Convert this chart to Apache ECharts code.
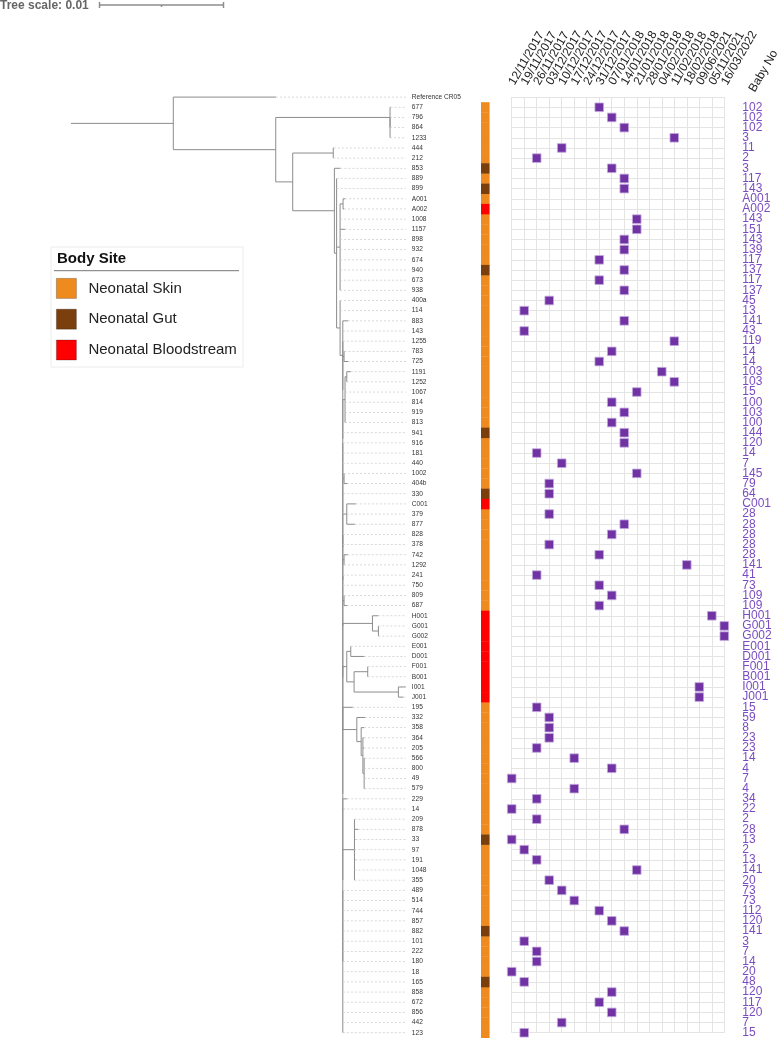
<!DOCTYPE html>
<html>
<head>
<meta charset="utf-8">
<script src="https://cdn.jsdelivr.net/npm/echarts@6/dist/echarts.min.js"></script>
<style>
  html, body { margin: 0; padding: 0; background: #fff; }
  #main { width: 778px; height: 1038px; }
</style>
</head>
<body>
<div id="main"></div>
<script>
var myChart = echarts.init(document.getElementById('main'));

// leaves, top to bottom
var leafNames = ['Reference CR05', '677', '796', '864', '1233', '444', '212', '853', '889', '899',
    'A001', 'A002', '1008', '1157', '898', '932', '674', '940', '673', '938',
    '400a', '114', '883', '143', '1255', '783', '725', '1191', '1252', '1067',
    '814', '919', '813', '941', '916', '181', '440', '1002', '404b', '330',
    'C001', '379', '877', '828', '378', '742', '1292', '241', '750', '809',
    '687', 'H001', 'G001', 'G002', 'E001', 'D001', 'F001', 'B001', 'I001', 'J001',
    '195', '332', '358', '364', '205', '566', '800', '49', '579', '229',
    '14', '209', '878', '33', '97', '191', '1048', '355', '489', '514',
    '744', '857', '882', '101', '222', '180', '18', '165', '858', '672',
    '856', '442', '123'];

var bodySite = ['', 'Skin', 'Skin', 'Skin', 'Skin', 'Skin', 'Skin', 'Gut', 'Skin', 'Gut',
    'Skin', 'Blood', 'Skin', 'Skin', 'Skin', 'Skin', 'Skin', 'Gut', 'Skin', 'Skin',
    'Skin', 'Skin', 'Skin', 'Skin', 'Skin', 'Skin', 'Skin', 'Skin', 'Skin', 'Skin',
    'Skin', 'Skin', 'Skin', 'Gut', 'Skin', 'Skin', 'Skin', 'Skin', 'Skin', 'Gut',
    'Blood', 'Skin', 'Skin', 'Skin', 'Skin', 'Skin', 'Skin', 'Skin', 'Skin', 'Skin',
    'Skin', 'Blood', 'Blood', 'Blood', 'Blood', 'Blood', 'Blood', 'Blood', 'Blood', 'Blood',
    'Skin', 'Skin', 'Skin', 'Skin', 'Skin', 'Skin', 'Skin', 'Skin', 'Skin', 'Skin',
    'Skin', 'Skin', 'Skin', 'Gut', 'Skin', 'Skin', 'Skin', 'Skin', 'Skin', 'Skin',
    'Skin', 'Skin', 'Gut', 'Skin', 'Skin', 'Skin', 'Skin', 'Gut', 'Skin', 'Skin',
    'Skin', 'Skin', 'Skin'];

var sampleDates = ['12/11/2017', '19/11/2017', '26/11/2017', '03/12/2017', '10/12/2017', '17/12/2017',
    '24/12/2017', '31/12/2017', '07/01/2018', '14/01/2018', '21/01/2018', '28/01/2018',
    '04/02/2018', '11/02/2018', '18/02/2018', '09/06/2021', '05/11/2021', '16/03/2022'];

// index into sampleDates for each leaf (null = no sample date)
var sampleCol = [null, 7, 8, 9, 13, 4, 2, 8, 9, 9,
    null, null, 10, 10, 9, 9, 7, 9, 7, 9,
    3, 1, 9, 1, 13, 8, 7, 12, 13, 10,
    8, 9, 8, 9, 9, 2, 4, 10, 3, 3,
    null, 3, 9, 8, 3, 7, 14, 2, 7, 8,
    7, 16, 17, 17, null, null, null, null, 15, 15,
    2, 3, 3, 3, 2, 5, 8, 0, 5, 2,
    0, 2, 9, 0, 1, 2, 10, 3, 4, 5,
    7, 8, 9, 1, 2, 2, 0, 1, 8, 7,
    8, 4, 1];

var babyNo = ['', '102', '102', '102', '3', '11', '2', '3', '117', '143',
    'A001', 'A002', '143', '151', '143', '139', '117', '137', '117', '137',
    '45', '13', '141', '43', '119', '14', '14', '103', '103', '15',
    '100', '103', '100', '144', '120', '14', '7', '145', '79', '64',
    'C001', '28', '28', '28', '28', '28', '141', '41', '73', '109',
    '109', 'H001', 'G001', 'G002', 'E001', 'D001', 'F001', 'B001', 'I001', 'J001',
    '15', '59', '8', '23', '23', '14', '4', '7', '4', '34',
    '22', '2', '28', '13', '2', '13', '141', '20', '73', '73',
    '112', '120', '141', '3', '7', '14', '20', '48', '120', '117',
    '120', '7', '15'];

// tree with branch lengths (substitutions per site)
var treeNewick =
    '((Reference_CR05:0.00828,' +
     '((677:0.00004,(796:0,864:0,1233:0):0):0.00922,' +
      '((444:0.00004,212:0):0.00327,' +
       '(853:0.00048,' +
        '(889:0,899:0,' +
         '((A001:0.00016,A002:0.00008):0.00024,1008:0,1157:0.0004,898:0,932:0,674:0,940:0,673:0,938:0):0.00028,' +
         '(400a:0,114:0,' +
          '(883:0.00043,143:0,' +
           '(1255:0,(783:0.00004,725:0.00032):0.0001,' +
            '(((1191:0.00032,1252:0):0.00014,1067:0,814:0,919:0,813:0):0.00018,941:0,' +
             '(916:0,181:0,440:0,' +
              '((1002:0,404b:0.00024):0.0001,330:0.00005,' +
               '((C001:0.00073,379:0,877:0.00065):0.00032,' +
                '(828:0,378:0,(742:0.0003,1292:0):0.0001,' +
                 '(241:0,750:0,(809:0,687:0.00024):0.0001,' +
                  '((H001:0.00048,(G001:0,G002:0):0.00048):0.00239,' +
                   '(((E001:0,D001:0.0011):0.00032,((F001:0,B001:0):0.0011,(I001:0.0006,J001:0.0004):0.00357):0.00059):0.00032,' +
                    '(195:0.00081,' +
                     '(332:0.00067,(358:0.00024,(364:0.00008,205:0.00008,(566:0.00004,800:0,49:0,579:0.00004):0.0001):0.00014):0.00035):0.00113,' +
                     '(229:0.00035,14:0.00005,' +
                      '(209:0,878:0.00032,33:0.00008,97:0,191:0.00008,1048:0,355:0):0.00094,' +
                      '(489:0,514:0,744:0,857:0,882:0,101:0,222:0,180:0,18:0,165:0,858:0,672:0,856:0,442:0,123:0):0' +
                     '):0' +
                    '):0' +
                   '):0' +
                  '):0' +
                 '):0' +
                '):0' +
               '):0' +
              '):0' +
             '):0' +
            '):0' +
           '):0' +
          '):0.00022' +
         '):0.00028' +
        '):0.00018' +
       '):0.00336' +
      '):0.00137' +
     '):0.00826' +
    '):0.00825;';

var siteNames = { Skin: 'Neonatal Skin', Gut: 'Neonatal Gut', Blood: 'Neonatal Bloodstream' };
var siteColors = { Skin: '#EF8A1F', Gut: '#7A3F0C', Blood: '#FF0000' };

var pxPerUnit = 12400;   // 0.01 = 124 px
var treeMax = 0.027;
var nRows = leafNames.length;

function parseNewick(s) {
    s = s.replace(/\s+/g, '');
    var i = 0;
    function node() {
        var n = { children: [], name: '', len: 0 };
        if (s[i] === '(') {
            i++;
            n.children.push(node());
            while (s[i] === ',') { i++; n.children.push(node()); }
            i++;
        }
        var name = '';
        while (i < s.length && ',():;'.indexOf(s[i]) < 0) name += s[i++];
        n.name = name.replace(/_/g, ' ');
        if (s[i] === ':') {
            i++;
            var num = '';
            while (i < s.length && ',();'.indexOf(s[i]) < 0) num += s[i++];
            n.len = parseFloat(num);
        }
        return n;
    }
    return node();
}

var branches = [];
var leaders = [];

function layout(n, px) {
    n.x = px + n.len;
    if (!n.children.length) {
        n.y = leafNames.indexOf(n.name);
        if (n.x < treeMax) leaders.push([n.x, n.y, treeMax, n.y]);
        return;
    }
    n.children.forEach(function (c) { layout(c, n.x); });
    var first = n.children[0], last = n.children[n.children.length - 1];
    n.y = (first.y + last.y) / 2;
    branches.push([n.x, first.y, n.x, last.y]);
    n.children.forEach(function (c) { branches.push([n.x, c.y, c.x, c.y]); });
}

var tree = parseNewick(treeNewick);
layout(tree, 0);
branches.push([0, tree.y, tree.x, tree.y]);

function segmentRenderer(style) {
    return function (params, api) {
        var p1 = api.coord([api.value(0), api.value(1)]);
        var p2 = api.coord([api.value(2), api.value(3)]);
        return {
            type: 'line',
            shape: { x1: p1[0], y1: p1[1], x2: p2[0], y2: p2[1] },
            style: style
        };
    };
}

function siteSeries(key) {
    var rows = [];
    bodySite.forEach(function (s, i) { if (s === key) rows.push([0, i]); });
    return {
        name: siteNames[key],
        type: 'custom',
        xAxisIndex: 1,
        yAxisIndex: 2,
        itemStyle: { color: siteColors[key] },
        renderItem: function (params, api) {
            var a = api.coord([0, api.value(1) - 0.5]);
            var b = api.coord([1, api.value(1) + 0.5]);
            return {
                type: 'rect',
                shape: { x: a[0], y: a[1], width: b[0] - a[0], height: b[1] - a[1] + 0.3 },
                style: { fill: api.visual('color') }
            };
        },
        data: rows
    };
}

var samples = [];
sampleCol.forEach(function (c, i) { if (c !== null) samples.push([c, i]); });

var rowTop = 97.1, rowStep = 10.17;
var treeTop = rowTop - rowStep / 2;
var treeHeight = rowStep * nRows;

option = {
    animation: false,
    textStyle: { fontFamily: 'Liberation Sans, Arial, sans-serif' },
    title: [
        {
            text: 'Tree scale: 0.01',
            left: 0, top: 0, padding: 0,
            textStyle: { fontSize: 12, fontWeight: 'bold', color: '#666' }
        },
        {
            text: 'Body Site',
            left: 57, top: 251, padding: 0,
            textStyle: { fontSize: 15, fontWeight: 'bold', color: '#111' }
        }
    ],
    legend: {
        data: ['Neonatal Skin', 'Neonatal Gut', 'Neonatal Bloodstream'],
        orient: 'vertical',
        left: 56, top: 278,
        padding: 0,
        itemWidth: 20, itemHeight: 20, itemGap: 10,
        icon: 'rect',
        itemStyle: { borderColor: 'rgba(0,0,0,0.3)', borderWidth: 0.8 },
        textStyle: { fontSize: 15, color: '#222', padding: [0, 0, 0, 7] },
        selectedMode: false
    },
    grid: [
        { left: 71, top: treeTop, width: treeMax * pxPerUnit, height: treeHeight, outerBoundsMode: 'none' },
        { left: 481, top: treeTop, width: 8.6, height: treeHeight, outerBoundsMode: 'none' },
        { left: 511.7, top: rowTop, width: 212.6, height: rowStep * (nRows - 1), outerBoundsMode: 'none' }
    ],
    xAxis: [
        { type: 'value', gridIndex: 0, min: 0, max: treeMax, show: false },
        { type: 'value', gridIndex: 1, min: 0, max: 1, show: false },
        {
            type: 'category', gridIndex: 2, data: sampleDates, boundaryGap: false,
            position: 'top',
            axisLine: { show: false }, axisTick: { show: false },
            axisLabel: { interval: 0, rotate: 60, margin: 13, fontSize: 12, color: '#222', hideOverlap: false },
            splitLine: { show: true, interval: 0, lineStyle: { color: '#e4e4e4', width: 1 } }
        }
    ],
    yAxis: [
        { type: 'value', gridIndex: 0, min: -0.5, max: nRows - 0.5, inverse: true, show: false },
        {
            type: 'category', gridIndex: 0, data: leafNames, inverse: true, position: 'right',
            axisLine: { show: false }, axisTick: { show: false },
            axisLabel: { interval: 0, margin: 6, fontSize: 6.6, color: '#333' }
        },
        { type: 'value', gridIndex: 1, min: -0.5, max: nRows - 0.5, inverse: true, show: false },
        {
            type: 'value', gridIndex: 2, min: 0, max: nRows - 1, interval: 1, inverse: true,
            axisLine: { show: false }, axisTick: { show: false }, axisLabel: { show: false },
            splitLine: { show: true, lineStyle: { color: '#e4e4e4', width: 1 } }
        },
        {
            type: 'category', gridIndex: 2, data: babyNo, inverse: true, position: 'right',
            boundaryGap: false,
            axisLine: { show: false }, axisTick: { show: false }, splitLine: { show: false },
            axisLabel: { interval: 0, margin: 18, fontSize: 12, color: '#7a4cc0' }
        }
    ],
    series: [
        {
            name: 'branches', type: 'custom', xAxisIndex: 0, yAxisIndex: 0, silent: true,
            renderItem: segmentRenderer({ stroke: '#8c8c8c', lineWidth: 1 }),
            data: branches
        },
        {
            name: 'leaders', type: 'custom', xAxisIndex: 0, yAxisIndex: 0, silent: true,
            renderItem: segmentRenderer({ stroke: '#cfcfcf', lineWidth: 0.8, lineDash: [2, 2] }),
            data: leaders
        },
        siteSeries('Skin'),
        siteSeries('Gut'),
        siteSeries('Blood'),
        {
            name: 'samples', type: 'scatter', xAxisIndex: 2, yAxisIndex: 3,
            symbol: 'rect', symbolSize: 8.6,
            itemStyle: { color: '#7132a4', borderColor: '#c2a9dd', borderWidth: 0.8, opacity: 1 },
            data: samples
        }
    ]
};

myChart.setOption(option);

// tree scale bar, sized from the tree axis
var s0 = myChart.convertToPixel({ gridIndex: 0 }, [0, 0]);
var s1 = myChart.convertToPixel({ gridIndex: 0 }, [0.01, 0]);
var barLen = s1[0] - s0[0];
var barX = 99.5, barY = 5;
var barStyle = { stroke: '#8c8c8c', lineWidth: 1.5 };

myChart.setOption({
    graphic: [
        { type: 'rect', z: 0, shape: { x: 51, y: 247, width: 192, height: 120 }, style: { fill: '#fff', stroke: '#ececec', lineWidth: 1 } },
        { type: 'line', z: 1, shape: { x1: 54, y1: 270.7, x2: 239, y2: 270.7 }, style: { stroke: '#777', lineWidth: 1 } },
        { type: 'line', shape: { x1: barX, y1: barY, x2: barX + barLen, y2: barY }, style: barStyle },
        { type: 'line', shape: { x1: barX, y1: barY - 3, x2: barX, y2: barY + 3 }, style: barStyle },
        { type: 'line', shape: { x1: barX + barLen, y1: barY - 3, x2: barX + barLen, y2: barY + 3 }, style: barStyle },
        { type: 'line', shape: { x1: barX + barLen / 2, y1: barY, x2: barX + barLen / 2, y2: barY + 2 }, style: barStyle },
        {
            type: 'text', x: 752, y: 91, rotation: Math.PI / 3,
            style: { text: 'Baby No', fontSize: 12, fill: '#222', textAlign: 'left', textVerticalAlign: 'middle',
                     fontFamily: 'Liberation Sans, Arial, sans-serif' }
        }
    ]
});
</script>
</body>
</html>
